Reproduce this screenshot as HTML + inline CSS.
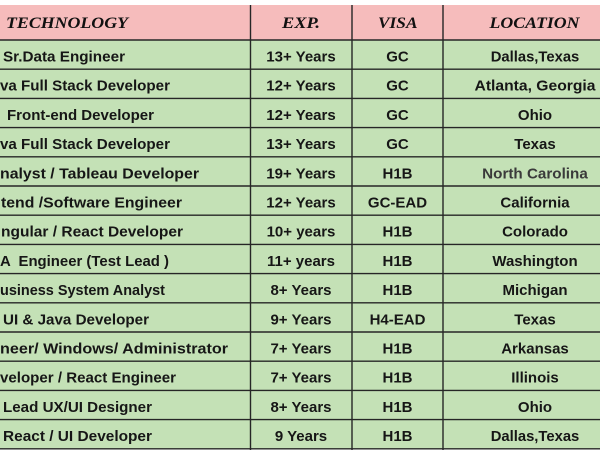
<!DOCTYPE html>
<html><head><meta charset="utf-8"><style>
html,body{margin:0;padding:0;background:#fff;}
svg{display:block;}
.t{font-family:"Liberation Sans",sans-serif;font-weight:bold;font-size:15px;fill:#161616;white-space:pre;}
.h{font-family:"Liberation Serif",serif;font-weight:bold;font-style:italic;font-size:16px;fill:#111;}
</style></head><body>
<svg width="600" height="450" viewBox="0 0 600 450" xmlns="http://www.w3.org/2000/svg">
<rect x="0" y="0" width="600" height="450" fill="#fff"/>
<rect x="0" y="5" width="600" height="35" fill="#f6bcbc"/>
<rect x="0" y="40" width="600" height="408.8" fill="#c4e1b6"/>
<g stroke="#262626" stroke-width="1.4">
<line x1="0" y1="40" x2="600" y2="40"/>
<line x1="0" y1="69.2" x2="600" y2="69.2"/>
<line x1="0" y1="98.4" x2="600" y2="98.4"/>
<line x1="0" y1="127.6" x2="600" y2="127.6"/>
<line x1="0" y1="156.8" x2="600" y2="156.8"/>
<line x1="0" y1="186" x2="600" y2="186"/>
<line x1="0" y1="215.2" x2="600" y2="215.2"/>
<line x1="0" y1="244.4" x2="600" y2="244.4"/>
<line x1="0" y1="273.6" x2="600" y2="273.6"/>
<line x1="0" y1="302.8" x2="600" y2="302.8"/>
<line x1="0" y1="332" x2="600" y2="332"/>
<line x1="0" y1="361.2" x2="600" y2="361.2"/>
<line x1="0" y1="390.4" x2="600" y2="390.4"/>
<line x1="0" y1="419.6" x2="600" y2="419.6"/>
<line x1="0" y1="448.8" x2="600" y2="448.8"/>
<line x1="250.5" y1="5" x2="250.5" y2="450"/>
<line x1="352" y1="5" x2="352" y2="450"/>
<line x1="443" y1="5" x2="443" y2="450"/>
</g>
<text class="h" x="6" y="28" textLength="122" lengthAdjust="spacingAndGlyphs">TECHNOLOGY</text>
<text class="h" x="282" y="28" textLength="38" lengthAdjust="spacingAndGlyphs">EXP.</text>
<text class="h" x="378" y="28" textLength="39.5" lengthAdjust="spacingAndGlyphs">VISA</text>
<text class="h" x="489.5" y="28" textLength="90" lengthAdjust="spacingAndGlyphs">LOCATION</text>

<text class="t" x="3" y="61.5" textLength="122" lengthAdjust="spacingAndGlyphs">Sr.Data Engineer</text>
<text class="t" x="0" y="90.7" textLength="170" lengthAdjust="spacingAndGlyphs">va Full Stack Developer</text>
<text class="t" x="7" y="119.9" textLength="147" lengthAdjust="spacingAndGlyphs">Front-end Developer</text>
<text class="t" x="0" y="149.1" textLength="170" lengthAdjust="spacingAndGlyphs">va Full Stack Developer</text>
<text class="t" x="0" y="178.3" textLength="199" lengthAdjust="spacingAndGlyphs">nalyst / Tableau Developer</text>
<text class="t" x="1" y="207.5" textLength="181" lengthAdjust="spacingAndGlyphs">tend /Software Engineer</text>
<text class="t" x="1" y="236.7" textLength="182" lengthAdjust="spacingAndGlyphs">ngular / React Developer</text>
<text class="t" x="0" y="265.9" textLength="169" lengthAdjust="spacingAndGlyphs">A  Engineer (Test Lead )</text>
<text class="t" x="0" y="295.1" textLength="165" lengthAdjust="spacingAndGlyphs">usiness System Analyst</text>
<text class="t" x="3" y="324.3" textLength="146" lengthAdjust="spacingAndGlyphs">UI &amp; Java Developer</text>
<text class="t" x="0" y="353.5" textLength="228" lengthAdjust="spacingAndGlyphs">neer/ Windows/ Administrator</text>
<text class="t" x="0" y="382.7" textLength="176" lengthAdjust="spacingAndGlyphs">veloper / React Engineer</text>
<text class="t" x="3" y="411.9" textLength="149" lengthAdjust="spacingAndGlyphs">Lead UX/UI Designer</text>
<text class="t" x="3" y="441.1" textLength="149" lengthAdjust="spacingAndGlyphs">React / UI Developer</text>

<g class="t" text-anchor="middle">
<text class="t" x="301" y="61.5">13+ Years</text>
<text class="t" x="301" y="90.7">12+ Years</text>
<text class="t" x="301" y="119.9">12+ Years</text>
<text class="t" x="301" y="149.1">13+ Years</text>
<text class="t" x="301" y="178.3">19+ Years</text>
<text class="t" x="301" y="207.5">12+ Years</text>
<text class="t" x="301" y="236.7">10+ years</text>
<text class="t" x="301" y="265.9">11+ years</text>
<text class="t" x="301" y="295.1">8+ Years</text>
<text class="t" x="301" y="324.3">9+ Years</text>
<text class="t" x="301" y="353.5">7+ Years</text>
<text class="t" x="301" y="382.7">7+ Years</text>
<text class="t" x="301" y="411.9">8+ Years</text>
<text class="t" x="301" y="441.1">9 Years</text>

<text class="t" x="397.5" y="61.5">GC</text>
<text class="t" x="397.5" y="90.7">GC</text>
<text class="t" x="397.5" y="119.9">GC</text>
<text class="t" x="397.5" y="149.1">GC</text>
<text class="t" x="397.5" y="178.3">H1B</text>
<text class="t" x="397.5" y="207.5">GC-EAD</text>
<text class="t" x="397.5" y="236.7">H1B</text>
<text class="t" x="397.5" y="265.9">H1B</text>
<text class="t" x="397.5" y="295.1">H1B</text>
<text class="t" x="397.5" y="324.3">H4-EAD</text>
<text class="t" x="397.5" y="353.5">H1B</text>
<text class="t" x="397.5" y="382.7">H1B</text>
<text class="t" x="397.5" y="411.9">H1B</text>
<text class="t" x="397.5" y="441.1">H1B</text>

<text class="t" x="535" y="61.5" textLength="88.6" lengthAdjust="spacingAndGlyphs">Dallas,Texas</text>
<text class="t" x="535" y="90.7" textLength="121" lengthAdjust="spacingAndGlyphs">Atlanta, Georgia</text>
<text class="t" x="535" y="119.9">Ohio</text>
<text class="t" x="535" y="149.1">Texas</text>
<text class="t" x="535" y="178.3" style="fill:#3a3a3a" textLength="105.6" lengthAdjust="spacingAndGlyphs">North Carolina</text>
<text class="t" x="535" y="207.5">California</text>
<text class="t" x="535" y="236.7">Colorado</text>
<text class="t" x="535" y="265.9">Washington</text>
<text class="t" x="535" y="295.1">Michigan</text>
<text class="t" x="535" y="324.3">Texas</text>
<text class="t" x="535" y="353.5">Arkansas</text>
<text class="t" x="535" y="382.7">Illinois</text>
<text class="t" x="535" y="411.9">Ohio</text>
<text class="t" x="535" y="441.1" textLength="88.6" lengthAdjust="spacingAndGlyphs">Dallas,Texas</text>
</g>
</svg>
</body></html>
